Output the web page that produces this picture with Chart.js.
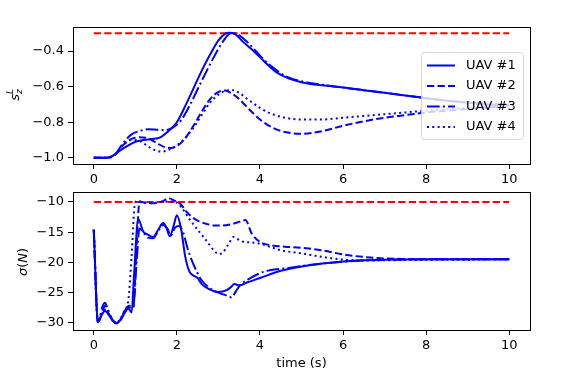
<!DOCTYPE html>
<html>
<head>
<meta charset="utf-8">
<script src="https://cdn.jsdelivr.net/npm/chart.js@4.4.1/dist/chart.umd.min.js"></script>
<style>
  html, body { margin: 0; padding: 0; background: #fff; }
  #wrap { position: relative; width: 574px; height: 373px; }
  canvas { position: absolute; left: 0; }
</style>
</head>
<body>
<div id="wrap">
  <canvas id="topChart" width="574" height="192" style="top:0"></canvas>
  <canvas id="bottomChart" width="574" height="197" style="top:176px"></canvas>
</div>
<script>
const blue = '#0000ff'
const red = '#ff0000'

const labels = ['UAV #1', 'UAV #2', 'UAV #3', 'UAV #4']
const dashes = [[], [7.3, 3.2], [12.7, 3.2, 2, 3.2], [2, 3.3]]

const xTicks = [0, 2, 4, 6, 8, 10]
const topTicks = [-1.0, -0.8, -0.6, -0.4]
const bottomTicks = [-30, -25, -20, -15, -10]

const limitT = [0, 10]
const limitTop = [-0.3, -0.3]
const limitBottom = [-10, -10]

// top panel: s_z^L
const tTop1 = [0, 0.3, 0.45, 0.6, 0.8, 1.0, 1.2, 1.4, 1.6, 1.8, 2.0, 2.2, 2.4, 2.6, 2.8, 3.0, 3.15, 3.25, 3.4, 3.6, 3.8, 4.0, 4.2, 4.4, 4.7, 5.0, 5.5, 6.0, 6.5, 7.0, 7.5, 8.0, 8.5, 9.0, 9.5, 10]
const sTop1 = [-1.0, -1.0, -0.99, -0.965, -0.935, -0.91, -0.9, -0.895, -0.885, -0.85, -0.80, -0.71, -0.61, -0.51, -0.42, -0.34, -0.305, -0.298, -0.305, -0.35, -0.39, -0.435, -0.48, -0.52, -0.555, -0.575, -0.593, -0.605, -0.62, -0.635, -0.65, -0.665, -0.68, -0.69, -0.70, -0.705]

const tTop2 = [0, 0.3, 0.5, 0.7, 0.9, 1.1, 1.3, 1.5, 1.7, 1.85, 2.0, 2.2, 2.4, 2.6, 2.8, 3.0, 3.15, 3.3, 3.5, 3.75, 4.0, 4.3, 4.6, 5.0, 5.5, 6.0, 6.5, 7.0, 7.5, 8.0, 8.5, 9.0, 9.5, 10]
const sTop2 = [-1.0, -1.0, -0.985, -0.93, -0.895, -0.885, -0.89, -0.915, -0.94, -0.945, -0.935, -0.89, -0.82, -0.74, -0.67, -0.63, -0.622, -0.635, -0.67, -0.73, -0.785, -0.83, -0.855, -0.865, -0.85, -0.82, -0.795, -0.775, -0.76, -0.745, -0.735, -0.725, -0.717, -0.71]

const tTop3 = [0, 0.3, 0.5, 0.7, 0.9, 1.1, 1.3, 1.5, 1.7, 1.9, 2.1, 2.3, 2.5, 2.7, 2.9, 3.1, 3.3, 3.45, 3.7, 3.9, 4.1, 4.3, 4.5, 4.7, 5.0, 5.5, 6.0, 7.0, 8.0, 9.0, 10]
const sTop3 = [-1.0, -1.0, -0.985, -0.92, -0.87, -0.85, -0.84, -0.842, -0.845, -0.83, -0.79, -0.71, -0.615, -0.52, -0.43, -0.35, -0.30, -0.305, -0.35, -0.40, -0.45, -0.49, -0.525, -0.55, -0.57, -0.59, -0.605, -0.635, -0.665, -0.69, -0.70]

const tTop4 = [0, 0.3, 0.5, 0.7, 0.9, 1.1, 1.3, 1.5, 1.65, 1.8, 2.0, 2.2, 2.4, 2.6, 2.8, 3.0, 3.2, 3.35, 3.5, 3.7, 4.0, 4.3, 4.6, 5.0, 5.5, 6.0, 6.5, 7.0, 7.5, 8.0, 8.5, 9.0, 9.5, 10]
const sTop4 = [-1.0, -1.0, -0.985, -0.93, -0.9, -0.905, -0.935, -0.96, -0.965, -0.955, -0.93, -0.89, -0.83, -0.76, -0.69, -0.645, -0.622, -0.62, -0.635, -0.67, -0.72, -0.755, -0.775, -0.785, -0.785, -0.775, -0.765, -0.755, -0.745, -0.735, -0.727, -0.72, -0.715, -0.71]

// bottom panel: sigma(N)
const tBot1 = [0, 0.1, 0.2, 0.27, 0.35, 0.45, 0.55, 0.65, 0.75, 0.83, 0.91, 0.97, 1.07, 1.19, 1.3, 1.43, 1.55, 1.67, 1.75, 1.83, 1.92, 2.0, 2.1, 2.2, 2.3, 2.4, 2.5, 2.6, 2.8, 3.0, 3.2, 3.3, 3.38, 3.5, 3.7, 4.0, 4.5, 5.0, 5.5, 6.0, 6.5, 7.0, 8.0, 9.0, 10]
const sBot1 = [-14.6, -29.9, -28.6, -28.0, -28.6, -29.6, -30.1, -29.5, -28.3, -27.6, -28.3, -22, -12.8, -14.9, -15.4, -15.8, -14.6, -13.5, -14.3, -15.7, -14.0, -12.2, -14.4, -19.0, -21.5, -22.2, -22.6, -23.6, -24.5, -24.9, -24.6, -24.1, -23.6, -23.8, -23.3, -22.6, -21.4, -20.7, -20.2, -19.85, -19.65, -19.55, -19.5, -19.5, -19.5]

const tBot2 = [0, 0.1, 0.2, 0.27, 0.35, 0.45, 0.55, 0.65, 0.75, 0.85, 0.95, 1.02, 1.1, 1.25, 1.45, 1.65, 1.8, 1.9, 2.0, 2.1, 2.2, 2.35, 2.5, 2.7, 2.9, 3.1, 3.3, 3.5, 3.65, 3.8, 4.0, 4.3, 4.6, 5.0, 5.5, 6.0, 6.5, 7.0, 7.5, 8.0, 9.0, 10]
const sBot2 = [-14.6, -29.9, -28.3, -27.2, -28.4, -29.6, -30.1, -29.4, -28.2, -27.5, -27.6, -19, -10.0, -10.1, -10.2, -9.9, -9.4, -9.6, -10.0, -10.4, -11.4, -12.4, -13.1, -13.6, -13.9, -13.9, -13.7, -13.3, -13.0, -15.2, -16.6, -17.2, -17.4, -17.6, -18.0, -18.7, -19.1, -19.35, -19.45, -19.5, -19.5, -19.5]

const tBot3 = [0, 0.1, 0.2, 0.27, 0.33, 0.45, 0.55, 0.65, 0.75, 0.85, 0.95, 1.03, 1.1, 1.2, 1.3, 1.43, 1.55, 1.67, 1.78, 1.85, 1.95, 2.05, 2.15, 2.25, 2.35, 2.5, 2.6, 2.8, 3.0, 3.2, 3.32, 3.42, 3.52, 3.76, 4.0, 4.24, 4.72, 5.0, 5.5, 6.0, 6.5, 7.0, 8.0, 10]
const sBot3 = [-14.6, -29.9, -27.5, -26.7, -27.6, -29.5, -30.0, -29.3, -28.0, -27.2, -27.3, -20, -14.4, -15.1, -15.9, -16.0, -14.8, -13.8, -14.5, -15.6, -14.3, -14.0, -15.0, -17.5, -19.5, -21.8, -23.0, -24.3, -25.0, -25.5, -25.8, -24.8, -23.8, -22.65, -21.8, -21.3, -20.9, -20.6, -20.2, -19.9, -19.7, -19.6, -19.5, -19.5]

const tBot4 = [0, 0.1, 0.2, 0.27, 0.35, 0.45, 0.55, 0.65, 0.75, 0.83, 0.91, 0.99, 1.05, 1.2, 1.4, 1.6, 1.8, 2.0, 2.1, 2.3, 2.5, 2.7, 2.9, 3.0, 3.1, 3.25, 3.36, 3.5, 3.6, 3.8, 4.0, 4.5, 5.0, 5.5, 6.0, 6.5, 7.0, 8.0, 9.0, 10]
const sBot4 = [-14.6, -29.9, -28.4, -27.8, -28.5, -29.6, -30.0, -29.2, -27.8, -26.4, -19, -10.3, -9.8, -10.1, -10.2, -10.0, -9.9, -10.1, -10.8, -12.8, -14.6, -16.3, -18.1, -18.6, -18.4, -16.9, -15.8, -16.3, -16.6, -16.7, -16.9, -18.0, -18.5, -19.1, -19.55, -19.7, -19.65, -19.6, -19.55, -19.5]

Chart.defaults.font.family = "'DejaVu Sans', sans-serif"
Chart.defaults.font.size = 13
Chart.defaults.color = '#000'

const pts = (ts, vs) => ts.map((t, i) => ({ x: t, y: vs[i] }))
const minus = s => s.replace('-', '\u2212')

function uavSets(series) {
  return series.map(([ts, vs], i) => ({
    label: labels[i],
    data: pts(ts, vs),
    borderColor: blue,
    borderWidth: 2,
    borderDash: dashes[i],
    pointRadius: 0,
    cubicInterpolationMode: 'monotone',
  }))
}

function limitSet(vs) {
  return {
    label: 'limit',
    data: pts(limitT, vs),
    borderColor: red,
    borderWidth: 2,
    borderDash: [7.3, 3.2],
    pointRadius: 0,
  }
}

// black box around the plot area, like the mpl spines
const frame = {
  id: 'frame',
  afterDatasetsDraw(chart) {
    const { ctx, chartArea: a } = chart
    ctx.save()
    ctx.strokeStyle = '#000'
    ctx.lineWidth = 1
    ctx.setLineDash([])
    ctx.strokeRect(Math.round(a.left) + 0.5, Math.round(a.top) + 0.5, Math.round(a.right - a.left), Math.round(a.bottom - a.top))
    ctx.restore()
  }
}

// rotated y label built from runs: [text, italic, size, shift, advances]
function yLabel(x, y, runs) {
  return {
    id: 'ylabel',
    afterDraw(chart) {
      const ctx = chart.ctx
      ctx.save()
      ctx.translate(x, y)
      ctx.rotate(-Math.PI / 2)
      ctx.fillStyle = '#000'
      ctx.textBaseline = 'alphabetic'
      let total = 0
      const widths = runs.map(([t, it, sz, sh, adv]) => {
        ctx.font = (it ? 'italic ' : '') + sz + "px 'DejaVu Sans'"
        const w = ctx.measureText(t).width
        total += adv === false ? 0 : w
        return w
      })
      let cx = -total / 2
      runs.forEach(([t, it, sz, sh, adv], i) => {
        ctx.font = (it ? 'italic ' : '') + sz + "px 'DejaVu Sans'"
        ctx.fillText(t, cx, sh)
        if (adv !== false) cx += widths[i]
      })
      ctx.restore()
    }
  }
}

const legendBox = {
  id: 'legendBox',
  afterDraw(chart) {
    const ctx = chart.ctx
    ctx.save()
    ctx.beginPath()
    ctx.roundRect(421.5, 52.5, 102, 87, 3)
    ctx.fillStyle = 'rgba(255,255,255,0.8)'
    ctx.fill()
    ctx.strokeStyle = 'rgba(204,204,204,0.8)'
    ctx.lineWidth = 1
    ctx.stroke()
    chart.data.datasets.slice(0, 4).forEach((ds, i) => {
      const y = 65.5 + i * 20.5
      ctx.beginPath()
      ctx.setLineDash(ds.borderDash)
      ctx.strokeStyle = ds.borderColor
      ctx.lineWidth = 2
      ctx.moveTo(427, y)
      ctx.lineTo(455, y)
      ctx.stroke()
      ctx.setLineDash([])
      ctx.fillStyle = '#000'
      ctx.font = "13px 'DejaVu Sans'"
      ctx.textBaseline = 'middle'
      ctx.fillText(ds.label, 466, y)
    })
    ctx.restore()
  }
}

function makeOptions(yMin, yMax, yTicks, fmt, xHeight, pad, xTitle) {
  const tickGrid = { display: true, drawOnChartArea: false, drawTicks: true, tickLength: 5, color: '#000', tickColor: '#000' }
  return {
    responsive: false,
    animation: false,
    devicePixelRatio: 1,
    layout: { padding: { top: pad, right: 44, left: 0, bottom: 0 } },
    plugins: { legend: { display: false }, tooltip: { enabled: false } },
    scales: {
      x: {
        type: 'linear',
        min: -0.5,
        max: 10.5,
        grid: tickGrid,
        border: { display: false },
        ticks: { padding: 3, maxRotation: 0, callback: v => String(v) },
        afterBuildTicks: s => { s.ticks = xTicks.map(v => ({ value: v })) },
        afterFit: s => { s.height = xHeight },
        title: xTitle ? { display: true, text: 'time (s)', padding: { top: 0, bottom: 2 } } : { display: false },
      },
      y: {
        min: yMin,
        max: yMax,
        grid: tickGrid,
        border: { display: false },
        ticks: { padding: 4, callback: fmt },
        afterBuildTicks: s => { s.ticks = yTicks.map(v => ({ value: v })) },
        afterFit: s => { s.width = 73 },
      }
    }
  }
}

new Chart(document.getElementById('topChart'), {
  type: 'line',
  data: {
    datasets: [
      ...uavSets([[tTop1, sTop1], [tTop2, sTop2], [tTop3, sTop3], [tTop4, sTop4]]),
      limitSet(limitTop),
    ]
  },
  options: makeOptions(-1.035, -0.265, topTicks, v => minus(v.toFixed(1)), 28, 27, false),
  plugins: [frame, legendBox, yLabel(19, 95, [['s', true, 13, 0], ['L', true, 9, -6, false], ['z', true, 9, 3]])],
})

new Chart(document.getElementById('bottomChart'), {
  type: 'line',
  data: {
    datasets: [
      ...uavSets([[tBot1, sBot1], [tBot2, sBot2], [tBot3, sBot3], [tBot4, sBot4]]),
      limitSet(limitBottom),
    ]
  },
  options: makeOptions(-31.2, -8.35, bottomTicks, v => minus(String(v)), 43, 16, true),
  plugins: [frame, yLabel(27, 86, [['\u03c3', true, 13, 0], ['(', false, 13, 0], ['N', true, 13, 0], [')', false, 13, 0]])],
})
</script>
</body>
</html>
